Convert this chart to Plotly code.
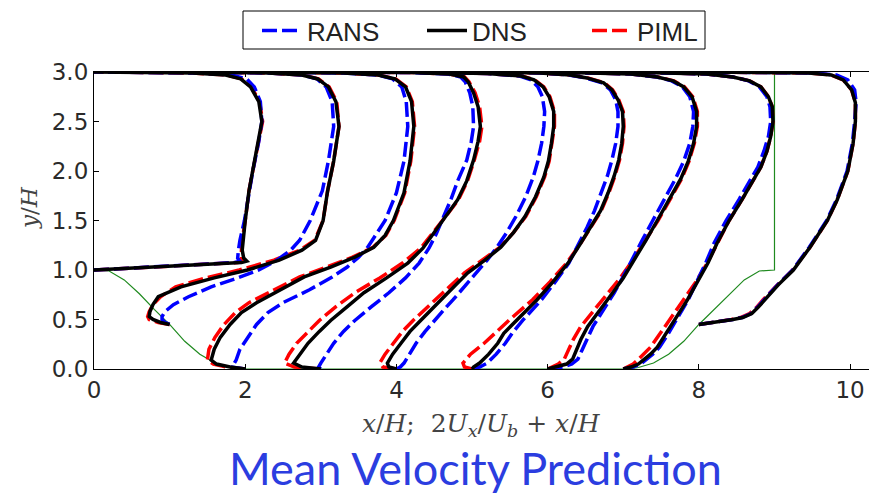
import plotly.graph_objects as go

# ---------------- data ----------------
stations = [0, 1, 2, 3, 4, 5, 6, 7, 8]

hill_x = [0, 0.2, 0.4, 0.6, 0.8, 1.0, 1.2, 1.4, 1.6, 1.8, 1.93, 7.07, 7.2, 7.4, 7.6, 7.8, 8.0, 8.2, 8.4, 8.6, 8.8, 9.0, 9.0]
hill_y = [1.0, 0.99, 0.9, 0.76, 0.6, 0.45, 0.28, 0.15, 0.06, 0.015, 0.0, 0.0, 0.015, 0.06, 0.15, 0.28, 0.45, 0.6, 0.76, 0.9, 0.99, 1.0, 3.0]

# profile 0 (x/H = 0)
y_p0    = [1.0, 1.02, 1.04, 1.06, 1.075, 1.09, 1.12, 1.20, 1.30, 1.50, 1.80, 2.00, 2.30, 2.50, 2.70, 2.85, 2.93, 2.97, 2.99, 3.0]
dns_p0  = [0.0, 0.55, 1.10, 1.60, 1.95, 2.02, 1.98, 1.96, 1.97, 2.00, 2.05, 2.10, 2.18, 2.22, 2.18, 2.07, 1.94, 1.74, 1.30, 0.0]
rans_p0 = [0.0, 0.55, 1.08, 1.55, 1.85, 1.93, 1.90, 1.91, 1.93, 1.99, 2.05, 2.10, 2.18, 2.22, 2.20, 2.12, 2.02, 1.82, 1.38, 0.0]
piml_p0 = [0.0, 0.55, 1.10, 1.58, 1.90, 1.98, 1.95, 1.95, 1.96, 2.00, 2.05, 2.10, 2.18, 2.23, 2.19, 2.08, 1.95, 1.75, 1.30, 0.0]

# profile 1
y_p1    = [0.45, 0.47, 0.50, 0.53, 0.58, 0.65, 0.73, 0.83, 0.92, 1.00, 1.10, 1.20, 1.30, 1.50, 1.80, 2.10, 2.45, 2.70, 2.85, 2.93, 2.97, 2.99, 3.0]
dns_p1  = [0.0, -0.12, -0.22, -0.27, -0.26, -0.22, -0.15, 0.15, 0.59, 1.03, 1.45, 1.75, 1.93, 2.03, 2.09, 2.17, 2.24, 2.20, 2.10, 1.96, 1.75, 1.30, 0.0]
rans_p1 = [0.0, -0.06, -0.10, -0.10, -0.06, 0.05, 0.25, 0.55, 0.90, 1.18, 1.42, 1.60, 1.72, 1.86, 2.02, 2.10, 2.17, 2.15, 2.07, 1.95, 1.75, 1.30, 0.0]
piml_p1 = [0.0, -0.15, -0.27, -0.29, -0.27, -0.22, -0.12, 0.08, 0.48, 0.92, 1.38, 1.72, 1.92, 2.03, 2.09, 2.17, 2.24, 2.21, 2.11, 1.97, 1.76, 1.30, 0.0]

# profile 2
y_p2    = [0.0, 0.02, 0.05, 0.09, 0.20, 0.32, 0.45, 0.57, 0.67, 0.80, 0.93, 1.03, 1.13, 1.23, 1.35, 1.50, 1.78, 2.10, 2.45, 2.70, 2.85, 2.93, 2.97, 2.99, 3.0]
dns_p2  = [0.0, -0.20, -0.38, -0.45, -0.41, -0.33, -0.20, -0.05, 0.15, 0.47, 0.78, 1.13, 1.45, 1.70, 1.85, 1.96, 2.10, 2.18, 2.23, 2.20, 2.12, 1.98, 1.76, 1.30, 0.0]
rans_p2 = [0.0, -0.19, -0.15, -0.12, -0.07, 0.03, 0.15, 0.30, 0.50, 0.85, 1.15, 1.35, 1.50, 1.62, 1.72, 1.85, 2.00, 2.10, 2.15, 2.13, 2.07, 1.95, 1.75, 1.30, 0.0]
piml_p2 = [0.0, -0.25, -0.42, -0.50, -0.48, -0.40, -0.28, -0.13, 0.05, 0.38, 0.72, 1.08, 1.42, 1.69, 1.86, 1.97, 2.11, 2.19, 2.24, 2.21, 2.13, 1.99, 1.77, 1.30, 0.0]

# profile 3
y_p3    = [0.0, 0.02, 0.06, 0.15, 0.26, 0.38, 0.49, 0.63, 0.77, 0.92, 1.07, 1.22, 1.37, 1.55, 1.71, 1.90, 2.11, 2.30, 2.45, 2.65, 2.79, 2.90, 2.95, 2.98, 2.995, 3.0]
dns_p3  = [0.0, -0.25, -0.36, -0.27, -0.17, -0.02, 0.13, 0.35, 0.57, 0.87, 1.15, 1.35, 1.49, 1.66, 1.81, 1.93, 2.02, 2.08, 2.11, 2.08, 2.02, 1.95, 1.89, 1.70, 1.20, 0.0]
rans_p3 = [0.0, -0.03, 0.0, 0.08, 0.17, 0.30, 0.45, 0.67, 0.90, 1.12, 1.30, 1.43, 1.53, 1.63, 1.72, 1.81, 1.93, 1.99, 2.02, 2.01, 1.97, 1.91, 1.85, 1.68, 1.20, 0.0]
piml_p3 = [0.0, -0.35, -0.48, -0.42, -0.32, -0.17, -0.02, 0.20, 0.45, 0.78, 1.08, 1.32, 1.48, 1.66, 1.82, 1.94, 2.03, 2.10, 2.13, 2.10, 2.04, 1.96, 1.90, 1.70, 1.20, 0.0]

# profile 4
y_p4    = [0.0, 0.02, 0.06, 0.15, 0.26, 0.38, 0.49, 0.60, 0.70, 0.83, 0.97, 1.10, 1.23, 1.38, 1.54, 1.74, 1.94, 2.10, 2.28, 2.45, 2.60, 2.75, 2.85, 2.92, 2.96, 2.985, 3.0]
dns_p4  = [0.0, -0.10, -0.12, -0.05, 0.06, 0.18, 0.32, 0.46, 0.58, 0.76, 0.94, 1.17, 1.38, 1.55, 1.70, 1.84, 1.95, 2.01, 2.05, 2.08, 2.08, 2.02, 1.94, 1.82, 1.65, 1.20, 0.0]
rans_p4 = [0.0, 0.05, 0.10, 0.17, 0.26, 0.38, 0.50, 0.63, 0.75, 0.90, 1.05, 1.20, 1.33, 1.46, 1.58, 1.71, 1.81, 1.87, 1.92, 1.95, 1.96, 1.93, 1.87, 1.78, 1.62, 1.20, 0.0]
piml_p4 = [0.0, -0.18, -0.22, -0.15, -0.04, 0.08, 0.22, 0.37, 0.51, 0.70, 0.90, 1.14, 1.37, 1.55, 1.71, 1.85, 1.96, 2.02, 2.06, 2.09, 2.09, 2.03, 1.95, 1.83, 1.66, 1.20, 0.0]

# profile 5
y_p5    = [0.0, 0.02, 0.06, 0.15, 0.26, 0.36, 0.50, 0.70, 0.88, 1.07, 1.25, 1.43, 1.60, 1.78, 1.95, 2.11, 2.28, 2.45, 2.60, 2.72, 2.82, 2.89, 2.94, 2.97, 2.99, 3.0]
dns_p5  = [0.0, 0.02, 0.10, 0.22, 0.34, 0.42, 0.60, 0.86, 1.07, 1.27, 1.42, 1.57, 1.70, 1.80, 1.88, 1.94, 1.98, 2.00, 1.99, 1.93, 1.85, 1.74, 1.52, 1.30, 0.90, 0.0]
rans_p5 = [0.0, 0.10, 0.20, 0.32, 0.44, 0.53, 0.68, 0.92, 1.10, 1.28, 1.40, 1.52, 1.62, 1.71, 1.79, 1.85, 1.90, 1.93, 1.93, 1.90, 1.83, 1.72, 1.50, 1.28, 0.90, 0.0]
piml_p5 = [0.0, -0.10, -0.12, -0.02, 0.16, 0.30, 0.50, 0.80, 1.03, 1.25, 1.42, 1.57, 1.71, 1.81, 1.89, 1.95, 1.99, 2.01, 2.00, 1.94, 1.86, 1.75, 1.53, 1.30, 0.90, 0.0]

# profile 6
y_p6    = [0.0, 0.02, 0.05, 0.10, 0.20, 0.30, 0.43, 0.60, 0.77, 0.92, 1.07, 1.30, 1.50, 1.70, 1.92, 2.10, 2.28, 2.45, 2.60, 2.75, 2.85, 2.91, 2.95, 2.98, 3.0]
dns_p6  = [0.0, 0.12, 0.25, 0.33, 0.38, 0.44, 0.53, 0.70, 0.86, 1.00, 1.12, 1.30, 1.45, 1.60, 1.76, 1.86, 1.93, 1.97, 1.97, 1.91, 1.80, 1.66, 1.45, 1.10, 0.0]
rans_p6 = [0.0, 0.20, 0.32, 0.40, 0.46, 0.52, 0.60, 0.74, 0.88, 0.99, 1.09, 1.25, 1.39, 1.53, 1.69, 1.80, 1.88, 1.92, 1.93, 1.88, 1.78, 1.64, 1.44, 1.10, 0.0]
piml_p6 = [0.0, 0.05, 0.14, 0.22, 0.28, 0.34, 0.44, 0.62, 0.80, 0.96, 1.10, 1.30, 1.46, 1.61, 1.77, 1.87, 1.94, 1.98, 1.98, 1.92, 1.81, 1.67, 1.46, 1.10, 0.0]

# profile 7
y_p7    = [0.0, 0.02, 0.05, 0.09, 0.15, 0.22, 0.35, 0.52, 0.70, 0.88, 1.07, 1.27, 1.50, 1.71, 1.90, 2.04, 2.20, 2.35, 2.50, 2.65, 2.75, 2.85, 2.91, 2.95, 2.98, 3.0]
dns_p7  = [0.0, 0.10, 0.20, 0.27, 0.36, 0.45, 0.56, 0.70, 0.85, 0.98, 1.12, 1.24, 1.40, 1.57, 1.72, 1.82, 1.90, 1.95, 1.98, 1.97, 1.92, 1.82, 1.67, 1.45, 1.10, 0.0]
rans_p7 = [0.0, 0.13, 0.23, 0.30, 0.39, 0.48, 0.59, 0.72, 0.86, 0.97, 1.09, 1.20, 1.36, 1.53, 1.68, 1.78, 1.86, 1.92, 1.95, 1.94, 1.90, 1.80, 1.66, 1.45, 1.10, 0.0]
piml_p7 = [0.0, 0.06, 0.13, 0.19, 0.27, 0.36, 0.48, 0.63, 0.80, 0.96, 1.11, 1.24, 1.40, 1.57, 1.72, 1.82, 1.90, 1.95, 1.98, 1.97, 1.92, 1.82, 1.67, 1.45, 1.10, 0.0]

# profile 8
y_p8    = [0.45, 0.46, 0.48, 0.50, 0.52, 0.56, 0.62, 0.70, 0.85, 1.00, 1.23, 1.50, 1.71, 2.00, 2.28, 2.50, 2.69, 2.82, 2.92, 2.97, 2.99, 3.0]
dns_p8  = [0.0, 0.10, 0.30, 0.45, 0.58, 0.70, 0.78, 0.87, 1.05, 1.25, 1.47, 1.70, 1.83, 1.97, 2.04, 2.07, 2.07, 2.02, 1.91, 1.75, 1.45, 0.0]
rans_p8 = [0.0, 0.10, 0.30, 0.45, 0.57, 0.69, 0.77, 0.86, 1.04, 1.24, 1.46, 1.69, 1.82, 1.96, 2.03, 2.06, 2.08, 2.06, 1.97, 1.82, 1.52, 0.0]
piml_p8 = [0.0, 0.10, 0.29, 0.43, 0.55, 0.67, 0.76, 0.85, 1.04, 1.24, 1.47, 1.70, 1.83, 1.97, 2.04, 2.07, 2.07, 2.02, 1.91, 1.75, 1.45, 0.0]

y_all = [y_p0, y_p1, y_p2, y_p3, y_p4, y_p5, y_p6, y_p7, y_p8]
dns_all = [dns_p0, dns_p1, dns_p2, dns_p3, dns_p4, dns_p5, dns_p6, dns_p7, dns_p8]
rans_all = [rans_p0, rans_p1, rans_p2, rans_p3, rans_p4, rans_p5, rans_p6, rans_p7, rans_p8]
piml_all = [piml_p0, piml_p1, piml_p2, piml_p3, piml_p4, piml_p5, piml_p6, piml_p7, piml_p8]

x_ticks = [0, 2, 4, 6, 8, 10]
y_ticks = [0.0, 0.5, 1.0, 1.5, 2.0, 2.5, 3.0]

# ---------------- figure ----------------
fig = go.Figure()

fig.add_trace(go.Scatter(x=hill_x, y=hill_y, mode="lines",
                         line=dict(color="#1f8a1f", width=1.2),
                         showlegend=False, hoverinfo="skip"))

styles = {
    "PIML": dict(color="#ff0000", width=3.5, dash="15px,5px"),
    "RANS": dict(color="#0000ff", width=3.5, dash="15px,5px"),
    "DNS": dict(color="#000000", width=3.5),
}
data_map = {"PIML": piml_all, "DNS": dns_all, "RANS": rans_all}
rank = {"RANS": 1, "DNS": 2, "PIML": 3}

for name in ["PIML", "RANS", "DNS"]:
    for k, x0 in enumerate(stations):
        fig.add_trace(go.Scatter(
            x=[x0 + u for u in data_map[name][k]], y=y_all[k], mode="lines",
            line=styles[name], name=name, legendgroup=name,
            showlegend=(k == 0), legendrank=rank[name], hoverinfo="skip"))

tick_font = dict(family="DejaVu Sans", size=23, color="#2a2a2a")

# plot-area geometry in pixels (used to place the legend frame in paper units)
L, R, T, B = 94, 869, 72, 369
def px_x(p):
    return (p - L) / (R - L)
def px_y(p):
    return (B - p) / (B - T)

fig.update_layout(
    template="none",
    width=869, height=502,
    margin=dict(l=L, r=869 - R, t=T, b=502 - B, pad=0),
    paper_bgcolor="white", plot_bgcolor="white",
    xaxis=dict(range=[0, 10.25], tickvals=x_ticks, ticktext=[str(v) for v in x_ticks],
               ticks="inside", ticklen=5, tickcolor="black",
               showline=True, linecolor="black", linewidth=1.2, mirror="ticks",
               showgrid=False, zeroline=False, tickfont=tick_font, automargin=False),
    yaxis=dict(range=[0, 3.0], tickvals=y_ticks, ticktext=["%.1f" % v for v in y_ticks],
               ticks="inside", ticklen=5, tickcolor="black",
               showline=True, linecolor="black", linewidth=1.2, mirror=False,
               showgrid=False, zeroline=False, tickfont=tick_font, automargin=False),
    legend=dict(orientation="h", x=px_x(257), y=px_y(7), xanchor="left", yanchor="top",
                bgcolor="rgba(0,0,0,0)", borderwidth=0,
                font=dict(family="Liberation Sans", size=26, color="#222222"),
                entrywidth=110, itemwidth=40, tracegroupgap=0),
    showlegend=True,
    shapes=[dict(type="rect", xref="paper", yref="paper",
                 x0=px_x(243), x1=px_x(705), y0=px_y(49), y1=px_y(11),
                 line=dict(color="black", width=1), fillcolor="white", layer="below")],
    annotations=[
        dict(text="<i>x</i>/<i>H</i>;\u00a0\u00a02<i>U<sub>x</sub></i>/<i>U<sub>b</sub></i>\u00a0+\u00a0<i>x</i>/<i>H</i>",
             xref="paper", yref="paper", x=0.5, y=-0.19, xanchor="center", yanchor="middle",
             showarrow=False, font=dict(family="DejaVu Serif", size=25, color="#444444")),
        dict(text="<i>y</i>/<i>H</i>", textangle=-90,
             xref="paper", yref="paper", x=-0.084, y=0.545, xanchor="center", yanchor="middle",
             showarrow=False, font=dict(family="DejaVu Serif", size=23, color="#444444")),
        dict(text="Mean Velocity Prediction",
             xref="paper", yref="paper", x=0.492, y=-0.335, xanchor="center", yanchor="middle",
             showarrow=False, font=dict(family="Lato", size=45, color="#2b3de0")),
    ],
)

fig.write_html("out.html")
